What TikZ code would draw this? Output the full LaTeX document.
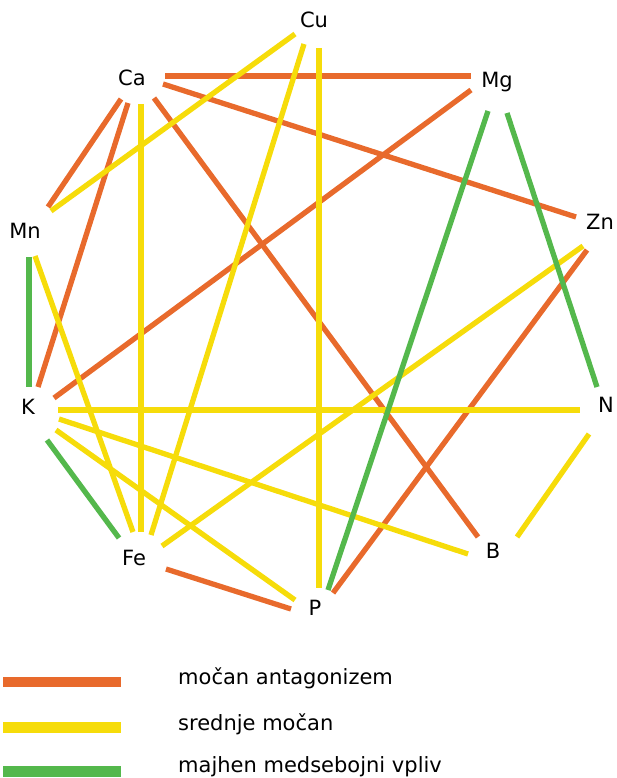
\documentclass[tikz,border=0pt]{standalone}
\usepackage{fontspec}
\setmainfont{DejaVu Sans}
\definecolor{strong}{RGB}{232,106,44}
\definecolor{medium}{RGB}{246,220,10}
\definecolor{weak}{RGB}{84,184,76}
\tikzset{
  element/.style={anchor=base, inner sep=0pt, font=\fontsize{21}{25}\selectfont},
  legtext/.style={anchor=mid west, inner sep=0pt, font=\fontsize{21}{25}\selectfont},
  legbar/.style={inner sep=0pt, minimum width=118pt, minimum height=10.5pt},
  bond/.style={line width=5.3pt, line cap=butt},
  strongbond/.style={bond, draw=strong},
  mediumbond/.style={bond, draw=medium},
  weakbond/.style={bond, draw=weak},
}
% a connector between two elements, each end shifted from the label's base point
\newcommand\bondline[5]{\draw[#1] ([shift={(#3)}]#2.base) -- ([shift={(#5)}]#4.base);}
\begin{document}
\begin{tikzpicture}[x=1pt, y=-1pt]
\useasboundingbox (0,0) rectangle (617,778);

% elements
\node[element] (Cu) at (314,28) {Cu};
\node[element] (Ca) at (132,86) {Ca};
\node[element] (Mg) at (497,88) {Mg};
\node[element] (Mn) at (25,238) {Mn};
\node[element] (Zn) at (600,229) {Zn};
\node[element] (K)  at (28,414) {K};
\node[element] (N)  at (606,412) {N};
\node[element] (Fe) at (134,565) {Fe};
\node[element] (B)  at (493,558) {B};
\node[element] (P)  at (315,615) {P};

% strong antagonism
\bondline{strongbond}{Ca}{33,-10}{Mg}{-26,-12}
\bondline{strongbond}{Ca}{31,-2}{Zn}{-24,-12}
\bondline{strongbond}{Ca}{-11,13}{Mn}{23,-31}
\bondline{strongbond}{Ca}{-4,17}{K}{10,-27}
\bondline{strongbond}{Ca}{22,12}{B}{-15,-21}
\bondline{strongbond}{Mg}{-26,2}{K}{26,-16}
\bondline{strongbond}{Zn}{-13,21}{P}{18,-22}
\bondline{strongbond}{Fe}{32,4}{P}{-24,-6}

% medium interaction
\bondline{mediumbond}{Cu}{-19,6}{Mn}{26,-27}
\bondline{mediumbond}{Cu}{-10,16}{Fe}{17,-30}
\bondline{mediumbond}{Cu}{5,20}{P}{4,-27}
\bondline{mediumbond}{Ca}{9,18}{Fe}{7,-33}
\bondline{mediumbond}{Zn}{-17,17}{Fe}{28,-19}
\bondline{mediumbond}{Mn}{10,18}{Fe}{-1,-33}
\bondline{mediumbond}{K}{30,-4}{N}{-26,-2}
\bondline{mediumbond}{K}{31,5}{B}{-25,-4}
\bondline{mediumbond}{K}{28,16}{P}{-20,-15}
\bondline{mediumbond}{N}{-17,22}{B}{24,-21}

% weak interaction
\bondline{weakbond}{Mg}{-9,23}{P}{13,-25}
\bondline{weakbond}{Mg}{10,25}{N}{-9,-25}
\bondline{weakbond}{Mn}{4,19}{K}{1,-27}
\bondline{weakbond}{K}{19,26}{Fe}{-15,-27}

% legend
\node[legbar, fill=strong] (bar1) at (62,682) {};
\node[legbar, fill=medium] (bar2) at (62,727.5) {};
\node[legbar, fill=weak]   (bar3) at (62,771.5) {};
\node[legtext] (txt1) at (178,682) {močan antagonizem};
\node[legtext] (txt2) at (178,727.5) {srednje močan};
\node[legtext] (txt3) at (178,770) {majhen medsebojni vpliv};
\end{tikzpicture}
\end{document}
